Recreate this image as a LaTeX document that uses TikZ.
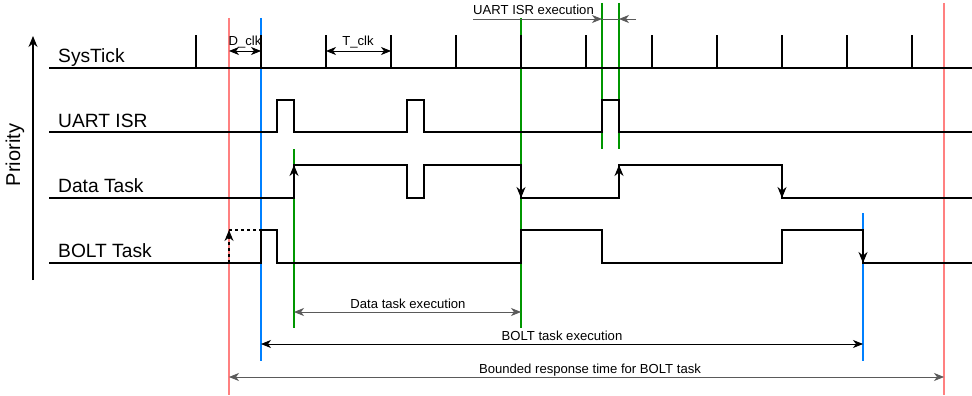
\documentclass[tikz,border=0pt]{standalone}
\usepackage{fontspec}
\setmainfont{Liberation Sans}
\usetikzlibrary{arrows.meta}
\definecolor{vred}{RGB}{255,128,128}
\definecolor{vblue}{RGB}{0,128,255}
\definecolor{vgreen}{RGB}{0,150,0}
\definecolor{dimline}{RGB}{90,90,90}
\tikzset{
  sig/.style={line width=1.1pt, black, line join=miter},
  tickmark/.style={line width=1.6pt, black},
  marker/.style={line width=1.2pt},
  lbl/.style={font=\fontsize{19.2}{20}\selectfont, anchor=base west, inner sep=0pt},
  note/.style={font=\fontsize{13.1}{14}\selectfont, inner sep=0pt},
  tip/.style={-{Stealth[length=11pt,width=9pt,inset=3.5pt]}},
  meas/.style={line width=0.8pt, {Stealth[length=10pt,width=8pt,inset=3pt]}-{Stealth[length=10pt,width=8pt,inset=3pt]}},
  onetip/.style={line width=0.8pt, -{Stealth[length=10pt,width=8pt,inset=3pt]}}
}
\begin{document}
\begin{tikzpicture}[x=1pt,y=-1pt]
\useasboundingbox (0,0) rectangle (972,396);

% priority axis
\coordinate (axB) at (33,280);
\coordinate (axT) at (33,36);
\draw[line width=1.1pt, tip] (axB) -- (axT);
\node[font=\fontsize{20}{20}\selectfont, rotate=90, inner sep=0pt] (prio) at (15,155) {Priority};

% signal labels
\node[lbl] (lsys)  at (58,63)  {SysTick};
\node[lbl] (luart) at (58,127) {UART ISR};
\node[lbl] (ldata) at (58,192) {Data Task};
\node[lbl] (lbolt) at (58,257) {BOLT Task};

% marker lines (drawn first, signals on top)
\draw[marker, vred]   (229,18) -- (229,395);
\draw[marker, vred]   (944,3)  -- (944,395);
\draw[marker, vblue]  (261,18) -- (261,361);
\draw[marker, vblue]  (863,213) -- (863,361);
\draw[marker, vgreen] (294,149) -- (294,328);
\draw[marker, vgreen] (521,18) -- (521,328);
\draw[marker, vgreen] (602,3) -- (602,149);
\draw[marker, vgreen] (619,3) -- (619,149);

% SysTick
\draw[sig] (49,68) -- (972,68);
\foreach \t in {196,261,326,391,456,521,586,652,717,782,847,912}
  \draw[tickmark] (\t,68) -- (\t,35);

% UART ISR
\draw[sig] (49,132) -- (277,132) -- (277,100) -- (294,100) -- (294,132)
  -- (407,132) -- (407,100) -- (424,100) -- (424,132)
  -- (602,132) -- (602,100) -- (619,100) -- (619,132) -- (972,132);

% Data Task
\draw[sig] (49,198) -- (294,198) -- (294,165) -- (407,165) -- (407,198)
  -- (424,198) -- (424,165) -- (521,165) -- (521,198) -- (619,198)
  -- (619,165) -- (782,165) -- (782,198) -- (972,198);
\draw[sig, tip] (294,190) -- (294,165);
\draw[sig, tip] (521,173) -- (521,198);
\draw[sig, tip] (619,190) -- (619,165);
\draw[sig, tip] (782,173) -- (782,198);

% BOLT Task
\draw[sig] (49,263) -- (261,263) -- (261,230) -- (277,230) -- (277,263)
  -- (521,263) -- (521,230) -- (602,230) -- (602,263) -- (782,263)
  -- (782,230) -- (863,230) -- (863,263) -- (972,263);
\draw[sig, tip] (863,238) -- (863,263);
\draw[line width=1.1pt, dash pattern=on 3pt off 3pt, tip] (229,263) -- (229,230);
\draw[line width=1.1pt, dash pattern=on 3pt off 3pt] (229,230) -- (261,230);

% clock annotations
\coordinate (dA) at (229,51);
\coordinate (dB) at (261,51);
\draw[meas] (dA) -- (dB);
\node[note, anchor=base] (dclk) at (245,46) {D\_clk};
\coordinate (tA) at (326,51);
\coordinate (tB) at (391,51);
\draw[meas] (tA) -- (tB);
\node[note, anchor=base] (tclk) at (358,46) {T\_clk};

% UART ISR execution
\coordinate (uL) at (473,19);
\coordinate (uA) at (602,19);
\coordinate (uB) at (619,19);
\coordinate (uR) at (636,19);
\draw[onetip, dimline] (uL) -- (uA);
\draw[line width=0.8pt, dimline] (uA) -- (uB);
\draw[onetip, dimline] (uR) -- (uB);
\node[note, anchor=base west] (uisr) at (473,15) {UART ISR execution};

% execution spans
\coordinate (eA) at (294,312);
\coordinate (eB) at (521,312);
\draw[meas, dimline] (eA) -- (eB);
\node[note, anchor=base] (dexec) at (408,308) {Data task execution};

\coordinate (bA) at (261,344);
\coordinate (bB) at (863,344);
\draw[meas] (bA) -- (bB);
\node[note, anchor=base] (bexec) at (562,340) {BOLT task execution};

\coordinate (rA) at (229,377);
\coordinate (rB) at (944,377);
\draw[meas, dimline] (rA) -- (rB);
\node[note, anchor=base] (resp) at (590,373) {Bounded response time for BOLT task};
\end{tikzpicture}
\end{document}
